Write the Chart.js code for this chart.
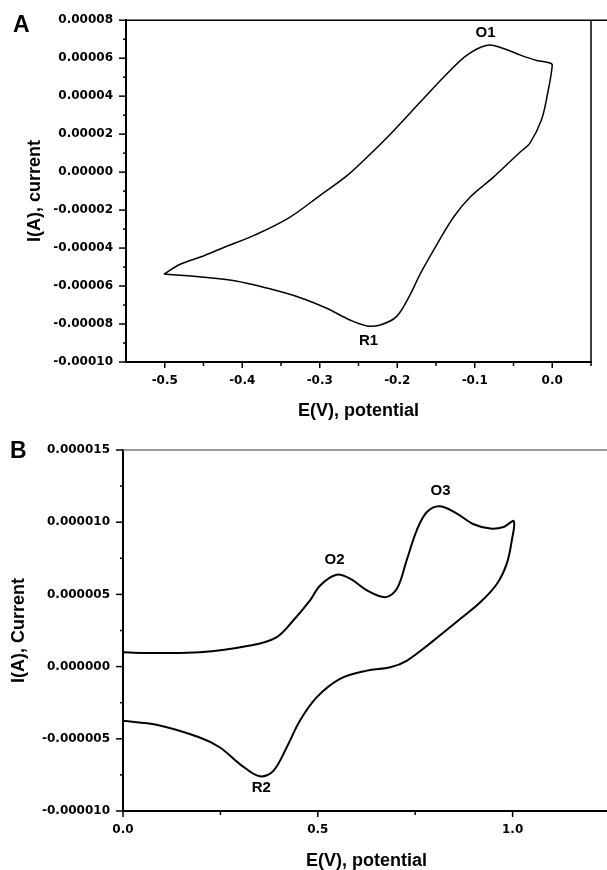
<!DOCTYPE html>
<html>
<head>
<meta charset="utf-8">
<script src="https://cdn.jsdelivr.net/npm/chart.js@4.4.1/dist/chart.umd.min.js"></script>
<style>
  html, body { margin: 0; padding: 0; background: #fff; overflow: hidden; }
  #wrapA { position: absolute; left: 0; top: 0; }
  #wrapB { position: absolute; left: 0; top: 420px; }
</style>
</head>
<body>
<div id="wrapA"><canvas id="cvA" width="607" height="420"></canvas></div>
<div id="wrapB"><canvas id="cvB" width="610" height="450"></canvas></div>
<script>
// panel A: one scan, potential (V) and current (A)
var potentialA = [-0.501, -0.480, -0.453, -0.427, -0.384, -0.341, -0.299, -0.264, -0.234, -0.204, -0.170, -0.1355, -0.110, -0.084, -0.063, -0.041, -0.020, -0.003, 0.000,
                  -0.006, -0.014, -0.029, -0.041, -0.0755, -0.1055, -0.127, -0.148, -0.170, -0.184, -0.201, -0.222, -0.239, -0.261, -0.291, -0.326, -0.367, -0.410, -0.453, -0.501];
var currentA = [-5.37e-5, -4.85e-5, -4.46e-5, -4.02e-5, -3.32e-5, -2.44e-5, -1.21e-5, -0.16e-5, 0.98e-5, 2.21e-5, 3.70e-5, 5.19e-5, 6.16e-5, 6.68e-5, 6.51e-5, 6.16e-5, 5.88e-5, 5.75e-5, 5.63e-5,
                4.14e-5, 2.74e-5, 1.51e-5, 1.07e-5, -0.25e-5, -1.30e-5, -2.35e-5, -3.75e-5, -5.33e-5, -6.50e-5, -7.61e-5, -8.05e-5, -8.10e-5, -7.79e-5, -7.17e-5, -6.60e-5, -6.12e-5, -5.72e-5, -5.53e-5, -5.37e-5];

// panel B
var potentialB = [0.000, 0.051, 0.197, 0.326, 0.394, 0.437, 0.480, 0.506, 0.548, 0.583, 0.626, 0.673, 0.703, 0.728, 0.754, 0.780, 0.814, 0.857, 0.900, 0.943, 0.977, 1.003,
                  0.998, 0.985, 0.960, 0.917, 0.866, 0.797, 0.729, 0.686, 0.626, 0.557, 0.497, 0.454, 0.420, 0.386, 0.351, 0.300, 0.249, 0.197, 0.086, 0.000];
var currentB = [0.99e-6, 0.95e-6, 0.99e-6, 1.46e-6, 2.03e-6, 3.19e-6, 4.58e-6, 5.62e-6, 6.36e-6, 6.09e-6, 5.28e-6, 4.81e-6, 5.39e-6, 7.36e-6, 9.44e-6, 10.71e-6, 11.11e-6, 10.60e-6, 9.86e-6, 9.56e-6, 9.67e-6, 10.07e-6,
                8.75e-6, 7.13e-6, 5.74e-6, 4.45e-6, 3.31e-6, 1.80e-6, 0.42e-6, -0.05e-6, -0.28e-6, -0.85e-6, -2.13e-6, -3.75e-6, -5.60e-6, -7.22e-6, -7.60e-6, -6.75e-6, -5.60e-6, -4.91e-6, -4.03e-6, -3.75e-6];

// tick values
var xMajorA = [-0.5, -0.4, -0.3, -0.2, -0.1, 0.0];
var xMinorA = [-0.45, -0.35, -0.25, -0.15, -0.05, 0.05];
var yMajorA = [-0.0001, -0.00008, -0.00006, -0.00004, -0.00002, 0, 0.00002, 0.00004, 0.00006, 0.00008];
var yMinorA = [-0.00009, -0.00007, -0.00005, -0.00003, -0.00001, 0.00001, 0.00003, 0.00005, 0.00007];
var xMajorB = [0.0, 0.5, 1.0];
var xMinorB = [0.25, 0.75];
var yMajorB = [-0.00001, -0.000005, 0, 0.000005, 0.00001, 0.000015];
var yMinorB = [-0.0000075, -0.0000025, 0.0000025, 0.0000075, 0.0000125];

// peak names
var peakNamesA = ['O1', 'R1'];
var peakEA = [-0.086, -0.237];
var peakIA = [7.32e-5, -8.89e-5];
var peakNamesB = ['O2', 'O3', 'R2'];
var peakEB = [0.543, 0.815, 0.355];
var peakIB = [7.36e-6, 12.2e-6, -8.4e-6];

var tickFont = { family: 'DejaVu Sans', size: 12, weight: 'bold' };
var titleFont = { family: 'Liberation Sans, Arial, sans-serif', size: 18, weight: 'bold', lineHeight: 1 };

function toPoints(xs, ys) {
    return xs.map(function (x, i) { return { x: x, y: ys[i] }; });
}

function setTicks(values) {
    return function (scale) {
        scale.ticks = values.map(function (v) { return { value: v }; });
    };
}

var cvDecor = {
    id: 'cvDecor',
    afterDraw: function (chart, args, o) {
        var ctx = chart.ctx, area = chart.chartArea;
        var sx = chart.scales.x, sy = chart.scales.y;
        function mark(x1, y1, x2, y2) {
            ctx.beginPath(); ctx.moveTo(x1, y1); ctx.lineTo(x2, y2); ctx.stroke();
        }
        ctx.save();
        ctx.strokeStyle = '#000';
        ctx.lineWidth = 1.5;
        o.xMajor.forEach(function (v) { var p = sx.getPixelForValue(v); mark(p, area.bottom, p, area.bottom + 6); });
        o.xMinor.forEach(function (v) { var p = sx.getPixelForValue(v); mark(p, area.bottom, p, area.bottom + 4); });
        o.yMajor.forEach(function (v) { var p = sy.getPixelForValue(v); mark(area.left - 7, p, area.left, p); });
        o.yMinor.forEach(function (v) { var p = sy.getPixelForValue(v); mark(area.left - 3, p, area.left, p); });

        ctx.strokeStyle = o.frameColor;
        ctx.lineWidth = o.frameWidth;
        mark(area.left, area.top, chart.width, area.top);
        if (o.frameRight) {
            mark(area.right, area.top, area.right, area.bottom + 1);
        }

        ctx.fillStyle = '#000';
        ctx.font = 'bold 23px "Liberation Sans", Arial, sans-serif';
        ctx.textAlign = 'left';
        ctx.textBaseline = 'alphabetic';
        ctx.fillText(o.letter, o.letterX, o.letterY);

        ctx.font = 'bold 15px "Liberation Sans", Arial, sans-serif';
        ctx.textAlign = 'center';
        ctx.textBaseline = 'middle';
        o.names.forEach(function (n, i) {
            ctx.fillText(n, sx.getPixelForValue(o.nameE[i]), sy.getPixelForValue(o.nameI[i]));
        });
        ctx.restore();
    }
};

function makeChart(id, cfg) {
    return new Chart(document.getElementById(id), {
        type: 'scatter',
        data: {
            datasets: [{
                data: cfg.points,
                showLine: true,
                borderColor: '#000',
                borderWidth: cfg.lineWidth,
                pointRadius: 0,
                tension: 0.35,
                fill: false
            }]
        },
        options: {
            responsive: false,
            animation: false,
            layout: { padding: cfg.padding },
            plugins: {
                legend: { display: false },
                tooltip: { enabled: false },
                cvDecor: cfg.decor
            },
            scales: {
                x: {
                    type: 'linear',
                    min: cfg.xMin,
                    max: cfg.xMax,
                    afterBuildTicks: setTicks(cfg.decor.xMajor),
                    afterFit: function (s) { s.height = cfg.xHeight; },
                    grid: { display: false, drawTicks: false },
                    border: { display: true, color: '#000', width: 2 },
                    ticks: {
                        color: '#000', font: tickFont, padding: 12, maxRotation: 0, autoSkip: false,
                        callback: function (v) { return Number(v).toFixed(1); }
                    },
                    title: { display: true, text: 'E(V), potential', color: '#000', font: titleFont, padding: { top: 0, bottom: 0 } }
                },
                y: {
                    type: 'linear',
                    min: cfg.yMin,
                    max: cfg.yMax,
                    afterBuildTicks: setTicks(cfg.decor.yMajor),
                    afterFit: function (s) { s.width = cfg.yWidth; },
                    grid: { display: false, drawTicks: false },
                    border: { display: true, color: '#000', width: 2 },
                    ticks: {
                        color: '#000', font: tickFont, padding: 13, autoSkip: false,
                        callback: function (v) { return Number(v).toFixed(cfg.yDigits); }
                    },
                    title: { display: true, text: cfg.yTitle, color: '#000', font: titleFont, padding: { top: cfg.yTitlePad, bottom: 0 } }
                }
            }
        },
        plugins: [cvDecor]
    });
}

makeChart('cvA', {
    points: toPoints(potentialA, currentA),
    lineWidth: 1.5,
    padding: { top: 20, right: 16, left: 0, bottom: 0 },
    xMin: -0.55, xMax: 0.05, yMin: -0.0001, yMax: 0.00008,
    xHeight: 58, yWidth: 126, yDigits: 5,
    yTitle: 'I(A), current', yTitlePad: 26,
    decor: {
        xMajor: xMajorA, xMinor: xMinorA, yMajor: yMajorA, yMinor: yMinorA,
        frameColor: '#000', frameWidth: 1.5, frameRight: true,
        letter: 'A', letterX: 13, letterY: 32,
        names: peakNamesA, nameE: peakEA, nameI: peakIA
    }
});

makeChart('cvB', {
    points: toPoints(potentialB, currentB),
    lineWidth: 2,
    padding: { top: 30, right: 0, left: 0, bottom: 0 },
    xMin: 0, xMax: 1.25, yMin: -0.00001, yMax: 0.000015,
    xHeight: 59, yWidth: 123, yDigits: 6,
    yTitle: 'I(A), Current', yTitlePad: 10,
    decor: {
        xMajor: xMajorB, xMinor: xMinorB, yMajor: yMajorB, yMinor: yMinorB,
        frameColor: '#777', frameWidth: 1.5, frameRight: false,
        letter: 'B', letterX: 10, letterY: 38,
        names: peakNamesB, nameE: peakEB, nameI: peakIB
    }
});
</script>
</body>
</html>
